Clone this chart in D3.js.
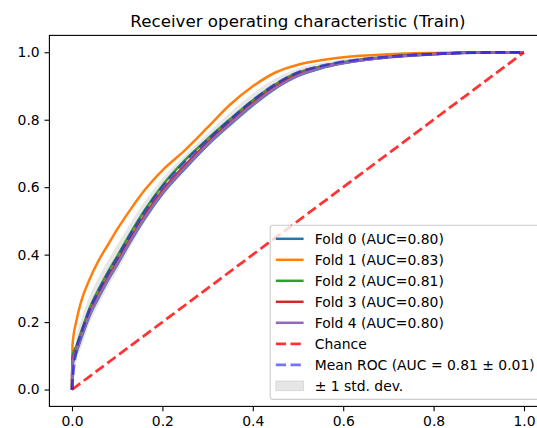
<!DOCTYPE html>
<html lang="en">
<head>
<meta charset="utf-8">
<title>Receiver operating characteristic (Train)</title>
<script src="https://cdn.jsdelivr.net/npm/d3@7"></script>
<style>
  body { margin: 0; background: #fff; }
  text { font-family: "DejaVu Sans", sans-serif; fill: #000; }
</style>
</head>
<body>
<div id="chart"></div>
<script>
// false positive rate grid shared by every curve
var fpr = [0, 0.001, 0.01, 0.02, 0.04, 0.06, 0.08, 0.10, 0.13, 0.16, 0.20, 0.25, 0.30, 0.35, 0.40, 0.45, 0.50, 0.55, 0.60, 0.70, 0.80, 0.90, 1.00];

// true positive rate per fold
var fold0 = [0, 0.07, 0.110, 0.150, 0.222, 0.275, 0.325, 0.370, 0.440, 0.505, 0.580, 0.655, 0.725, 0.786, 0.843, 0.893, 0.930, 0.952, 0.967, 0.985, 0.994, 0.999, 1.0];
var fold1 = [0, 0.13, 0.205, 0.260, 0.330, 0.385, 0.430, 0.475, 0.535, 0.590, 0.650, 0.710, 0.777, 0.845, 0.899, 0.940, 0.963, 0.976, 0.985, 0.994, 0.998, 1.000, 1.0];
var fold2 = [0, 0.10, 0.130, 0.170, 0.245, 0.300, 0.350, 0.395, 0.465, 0.530, 0.605, 0.680, 0.743, 0.802, 0.858, 0.905, 0.940, 0.958, 0.971, 0.987, 0.995, 0.999, 1.0];
var fold3 = [0, 0.09, 0.120, 0.160, 0.232, 0.285, 0.335, 0.380, 0.450, 0.515, 0.590, 0.665, 0.733, 0.793, 0.850, 0.899, 0.935, 0.955, 0.969, 0.986, 0.995, 0.999, 1.0];
var fold4 = [0, 0.08, 0.115, 0.155, 0.225, 0.278, 0.327, 0.372, 0.442, 0.507, 0.582, 0.657, 0.727, 0.788, 0.845, 0.894, 0.931, 0.953, 0.968, 0.985, 0.994, 0.999, 1.0];
var meanTpr = [0, 0.02, 0.120, 0.165, 0.240, 0.295, 0.345, 0.390, 0.460, 0.525, 0.600, 0.675, 0.740, 0.800, 0.857, 0.905, 0.940, 0.959, 0.972, 0.987, 0.995, 0.999, 1.0];

var folds = [fold0, fold1, fold2, fold3, fold4];
var foldLabels = ["Fold 0 (AUC=0.80)", "Fold 1 (AUC=0.83)", "Fold 2 (AUC=0.81)", "Fold 3 (AUC=0.80)", "Fold 4 (AUC=0.80)"];
var foldColors = ["#1f77b4", "#ff7f0e", "#2ca02c", "#d62728", "#9467bd"];
var chanceLabel = "Chance";
var meanLabel = "Mean ROC (AUC = 0.81 \u00b1 0.01)";
var stdLabel = "\u00b1 1 std. dev.";
var ticks = [0, 0.2, 0.4, 0.6, 0.8, 1.0];

var w = 537, h = 428;
var axLeft = 49.4, axRight = 546.6, axTop = 35.4, axBottom = 406.4;
var em = 13.9;

var svg = d3.select("#chart").append("svg")
    .attr("width", w)
    .attr("height", h);

var x = d3.scaleLinear().domain([-0.05, 1.05]).range([axLeft, axRight]);
var y = d3.scaleLinear().domain([-0.05, 1.05]).range([axBottom, axTop]);

svg.append("clipPath").attr("id", "plot-area")
   .append("rect")
   .attr("x", axLeft).attr("y", axTop)
   .attr("width", axRight - axLeft).attr("height", axBottom - axTop);

var plot = svg.append("g").attr("clip-path", "url(#plot-area)");

var line = d3.line()
    .curve(d3.curveMonotoneX)
    .x(function(d) { return x(d[0]); })
    .y(function(d) { return y(d[1]); });

// folds
folds.forEach(function(f, i) {
    plot.append("path")
        .attr("d", line(fpr.map(function(v, j) { return [v, f[j]]; })))
        .attr("fill", "none")
        .attr("stroke", foldColors[i])
        .attr("stroke-width", 2.5)
        .attr("stroke-linejoin", "round");
});

// chance
plot.append("path")
    .attr("d", d3.line()([[x(0), y(0)], [x(1), y(1)]]))
    .attr("fill", "none")
    .attr("stroke", "#ff0000")
    .attr("stroke-opacity", 0.8)
    .attr("stroke-width", 2.78)
    .attr("stroke-dasharray", "10.3,4.4");

// mean roc
plot.append("path")
    .attr("d", line(fpr.map(function(v, j) { return [v, meanTpr[j]]; })))
    .attr("fill", "none")
    .attr("stroke", "#0000ff")
    .attr("stroke-opacity", 0.6)
    .attr("stroke-width", 2.78)
    .attr("stroke-dasharray", "10.3,4.4");

// +/- 1 std band (population std of the folds)
var band = fpr.map(function(v, j) {
    var vals = folds.map(function(f) { return f[j]; });
    var m = d3.mean(vals);
    var sd = Math.sqrt(d3.mean(vals, function(t) { return (t - m) * (t - m); }));
    return { x: v, lo: Math.max(meanTpr[j] - sd, 0), hi: Math.min(meanTpr[j] + sd, 1) };
});
plot.append("path")
    .attr("d", d3.area()
        .curve(d3.curveMonotoneX)
        .x(function(d) { return x(d.x); })
        .y0(function(d) { return y(d.lo); })
        .y1(function(d) { return y(d.hi); })(band))
    .attr("fill", "rgba(128,128,128,0.2)");

// axes
var xAxis = d3.axisBottom(x).tickValues(ticks).tickFormat(d3.format(".1f"))
    .tickSize(4.86).tickPadding(4.86);
var yAxis = d3.axisLeft(y).tickValues(ticks).tickFormat(d3.format(".1f"))
    .tickSize(4.86).tickPadding(4.86);

var gx = svg.append("g").attr("transform", "translate(0," + axBottom + ")").call(xAxis);
var gy = svg.append("g").attr("transform", "translate(" + axLeft + ",0)").call(yAxis);
[gx, gy].forEach(function(g) {
    g.select(".domain").remove();
    g.selectAll(".tick line").attr("stroke", "#000").attr("stroke-width", 1.1);
    g.selectAll(".tick text").attr("font-size", em + "px").attr("font-family", "DejaVu Sans").attr("fill", "#000");
});

// spines
svg.append("rect")
   .attr("x", axLeft).attr("y", axTop)
   .attr("width", axRight - axLeft).attr("height", axBottom - axTop)
   .attr("fill", "none")
   .attr("stroke", "#000")
   .attr("stroke-width", 1.1);

// title
svg.append("text")
   .attr("x", (axLeft + axRight) / 2)
   .attr("y", axTop - 8.3)
   .attr("text-anchor", "middle")
   .attr("font-size", "16.7px")
   .text("Receiver operating characteristic (Train)");

// legend
var entries = foldLabels.map(function(l, i) { return { label: l, kind: "line", color: foldColors[i] }; });
entries.push({ label: chanceLabel, kind: "dash", color: "#ff0000", opacity: 0.8 });
entries.push({ label: meanLabel, kind: "dash", color: "#0000ff", opacity: 0.55 });
entries.push({ label: stdLabel, kind: "patch" });

var rowH = 21.0;
var legH = entries.length * rowH - 7 + 2 * 5.6 + 2;
var legRight = axRight - 7, legBottom = axBottom - 7, legLeft = 270.2;
var legTop = legBottom - legH;

var leg = svg.append("g");
leg.append("rect")
   .attr("x", legLeft).attr("y", legTop)
   .attr("width", legRight - legLeft).attr("height", legH)
   .attr("rx", 3)
   .attr("fill", "rgba(255,255,255,0.8)")
   .attr("stroke", "#cccccc")
   .attr("stroke-width", 1.1);

entries.forEach(function(e, i) {
    var cy = legTop + 5.6 + 7 + 1 + i * rowH;
    var hx0 = legLeft + 5.6, hx1 = hx0 + 2 * em;
    if (e.kind === "patch") {
        leg.append("rect")
           .attr("x", hx0).attr("y", cy - 4.9)
           .attr("width", hx1 - hx0).attr("height", 9.7)
           .attr("fill", "rgba(128,128,128,0.2)")
           .attr("stroke", "rgba(128,128,128,0.2)")
           .attr("stroke-width", 1);
    } else {
        leg.append("line")
           .attr("x1", hx0).attr("x2", hx1)
           .attr("y1", cy).attr("y2", cy)
           .attr("stroke", e.color)
           .attr("stroke-opacity", e.opacity || 1)
           .attr("stroke-width", e.kind === "dash" ? 2.78 : 2.5)
           .attr("stroke-dasharray", e.kind === "dash" ? "10.3,4.4" : null);
    }
    leg.append("text")
       .attr("x", hx1 + 0.8 * em)
       .attr("y", cy)
       .attr("dy", "0.36em")
       .attr("font-size", em + "px")
       .text(e.label);
});
</script>
</body>
</html>
